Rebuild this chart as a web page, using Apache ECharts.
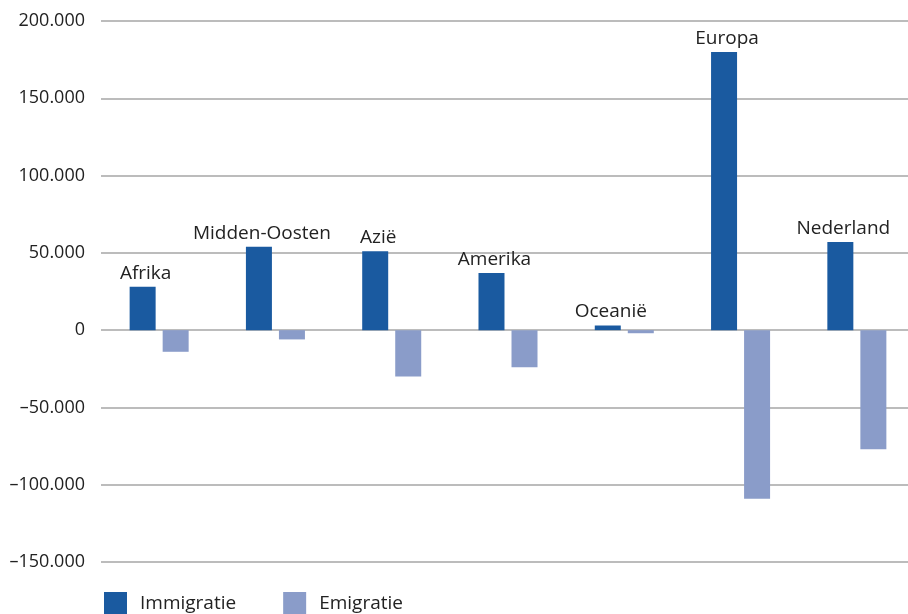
<!DOCTYPE html>
<html>
<head>
<meta charset="utf-8">
<script src="https://cdn.jsdelivr.net/npm/echarts@6/dist/echarts.min.js"></script>
<style>
html,body{margin:0;padding:0;background:#fff;overflow:hidden;width:908px;height:614px;}
#chart{width:916px;height:614px;}
</style>
</head>
<body>
<div id="chart"></div>
<script>
const categories = ['Afrika', 'Midden-Oosten', 'Azië', 'Amerika', 'Oceanië', 'Europa', 'Nederland'];
const immigratie = [28000, 54000, 51000, 37000, 3000, 180000, 57000];
const emigratie = [-14000, -6000, -30000, -24000, -2000, -109000, -77000];
const seriesNames = ['Immigratie', 'Emigratie'];

const FONT = 'Open Sans';
const TXT = '#222222';

function fmt(v) {
  const s = Math.abs(v).toString().replace(/\B(?=(\d{3})+(?!\d))/g, '.');
  return (v < 0 ? '\u2013' : '') + s;
}

const chart = echarts.init(document.getElementById('chart'), null, {renderer: 'canvas'});
chart.setOption({
  animation: false,
  backgroundColor: '#ffffff',
  grid: {left: 101, right: 1, top: 21, bottom: 52, containLabel: false},
  legend: {
    left: 104, top: 592,
    itemWidth: 23, itemHeight: 23, itemGap: 47,
    icon: 'rect',
    padding: 0,
    textStyle: {fontFamily: FONT, fontSize: 19, color: TXT, padding: [6, 0, 0, 8]},
    data: seriesNames
  },
  xAxis: {
    type: 'category',
    data: categories,
    axisLine: {show: false},
    axisTick: {show: false},
    axisLabel: {show: false},
    splitLine: {show: false}
  },
  yAxis: {
    type: 'value',
    min: -150000, max: 200000, interval: 50000,
    axisLine: {show: false},
    axisTick: {show: false},
    axisLabel: {formatter: fmt, fontFamily: FONT, fontSize: 18, color: TXT, margin: 16},
    splitLine: {lineStyle: {color: '#a6a6a6', width: 1.5}}
  },
  series: [
    {
      name: seriesNames[0], type: 'bar', data: immigratie,
      barWidth: 26, barGap: '27%',
      itemStyle: {color: '#1a5aa0'},
      label: {
        show: true, position: 'top', distance: 4, offset: [3, 0],
        formatter: p => p.name,
        fontFamily: FONT, fontSize: 19, color: TXT
      }
    },
    {
      name: seriesNames[1], type: 'bar', data: emigratie,
      barWidth: 26, barGap: '27%',
      itemStyle: {color: '#8a9cc9'}
    }
  ]
});
</script>
</body>
</html>
